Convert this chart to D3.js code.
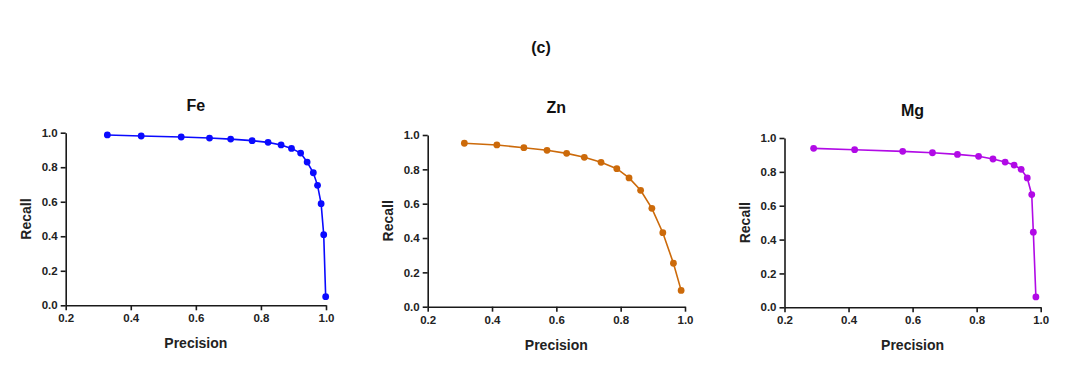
<!DOCTYPE html>
<html>
<head>
<meta charset="utf-8">
<script src="https://cdn.jsdelivr.net/npm/d3@7/dist/d3.min.js"></script>
<style>
  html, body { margin: 0; padding: 0; background: #fff; }
  svg { display: block; font-family: "Liberation Sans", Arial, sans-serif; }
</style>
</head>
<body>
<svg id="chart" width="1080" height="368"></svg>
<script>
// ---- Data ----
const mainTitle = "(c)";
const panelNames = ["Fe", "Zn", "Mg"];
const xTickValues = [0.2, 0.4, 0.6, 0.8, 1.0];
const yTickValues = [0.0, 0.2, 0.4, 0.6, 0.8, 1.0];
const xLabel = "Precision";
const yLabel = "Recall";

const fePrecision = [0.328, 0.432, 0.555, 0.642, 0.707, 0.773, 0.822, 0.862, 0.894, 0.922, 0.942, 0.961, 0.974, 0.985, 0.993, 0.999];
const feRecall    = [0.987, 0.981, 0.975, 0.969, 0.963, 0.954, 0.944, 0.929, 0.909, 0.882, 0.830, 0.768, 0.695, 0.589, 0.409, 0.050];

const znPrecision = [0.314, 0.415, 0.499, 0.571, 0.632, 0.687, 0.739, 0.788, 0.826, 0.862, 0.897, 0.931, 0.964, 0.988];
const znRecall    = [0.952, 0.942, 0.926, 0.911, 0.893, 0.870, 0.841, 0.804, 0.750, 0.678, 0.573, 0.431, 0.253, 0.095];

const mgPrecision = [0.291, 0.419, 0.569, 0.662, 0.740, 0.806, 0.851, 0.889, 0.917, 0.939, 0.958, 0.972, 0.977, 0.985];
const mgRecall    = [0.939, 0.931, 0.921, 0.913, 0.903, 0.892, 0.876, 0.858, 0.840, 0.815, 0.764, 0.666, 0.444, 0.061];

const seriesColors = ["#0a0aff", "#cc6a0a", "#b10ae6"];

// ---- Layout ----
const panels = [
  { name: panelNames[0], px: fePrecision, ry: feRecall, color: seriesColors[0], x0: 65.7, x1: 326.0, yTop: 132.7, yBot: 305.3 },
  { name: panelNames[1], px: znPrecision, ry: znRecall, color: seriesColors[1], x0: 427.7, x1: 685.0, yTop: 135.0, yBot: 306.7 },
  { name: panelNames[2], px: mgPrecision, ry: mgRecall, color: seriesColors[2], x0: 784.5, x1: 1040.7, yTop: 138.0, yBot: 307.3 }
];

const svg = d3.select("#chart");

svg.append("text")
  .attr("x", 541).attr("y", 53)
  .attr("text-anchor", "middle")
  .attr("font-size", 16).attr("font-weight", "bold")
  .attr("fill", "#111")
  .text(mainTitle);

panels.forEach(p => {
  const x = d3.scaleLinear().domain([0.2, 1.0]).range([p.x0, p.x1]);
  const y = d3.scaleLinear().domain([0.0, 1.0]).range([p.yBot, p.yTop]);
  const g = svg.append("g");

  // Title
  g.append("text")
    .attr("x", (p.x0 + p.x1) / 2).attr("y", p.yTop - 22)
    .attr("text-anchor", "middle")
    .attr("font-size", 16).attr("font-weight", "bold")
    .attr("fill", "#111")
    .text(p.name);

  // Axes
  const xAxis = d3.axisBottom(x).tickValues(xTickValues).tickFormat(d3.format(".1f")).tickSizeOuter(0).tickSizeInner(5).tickPadding(4);
  const yAxis = d3.axisLeft(y).tickValues(yTickValues).tickFormat(d3.format(".1f")).tickSizeOuter(0).tickSizeInner(5).tickPadding(3);

  const gx = g.append("g").attr("transform", `translate(0,${p.yBot})`).call(xAxis);
  const gy = g.append("g").attr("transform", `translate(${p.x0},0)`).call(yAxis);

  [gx, gy].forEach(a => {
    a.select(".domain").attr("stroke", "#1a1a1a").attr("stroke-width", 1.6);
    a.selectAll(".tick line").attr("stroke", "#1a1a1a").attr("stroke-width", 1.6);
    a.selectAll(".tick text")
      .attr("font-family", "Liberation Sans, Arial, sans-serif")
      .attr("font-size", 11.5).attr("font-weight", "bold").attr("fill", "#222");
  });

  // Axis labels
  g.append("text")
    .attr("x", (p.x0 + p.x1) / 2).attr("y", p.yBot + 43)
    .attr("text-anchor", "middle")
    .attr("font-size", 14).attr("font-weight", "bold").attr("fill", "#222")
    .text(xLabel);

  g.append("text")
    .attr("transform", `translate(${p.x0 - 35},${(p.yTop + p.yBot) / 2}) rotate(-90)`)
    .attr("text-anchor", "middle")
    .attr("font-size", 14).attr("font-weight", "bold").attr("fill", "#222")
    .text(yLabel);

  // Series
  const pts = p.px.map((v, i) => ({ p: v, r: p.ry[i] }));
  const line = d3.line().x(d => x(d.p)).y(d => y(d.r));
  g.append("path")
    .datum(pts)
    .attr("fill", "none")
    .attr("stroke", p.color)
    .attr("stroke-width", 1.6)
    .attr("d", line);
  g.selectAll("circle.pt")
    .data(pts)
    .join("circle")
    .attr("class", "pt")
    .attr("cx", d => x(d.p)).attr("cy", d => y(d.r))
    .attr("r", 3.4)
    .attr("fill", p.color);
});
</script>
</body>
</html>
